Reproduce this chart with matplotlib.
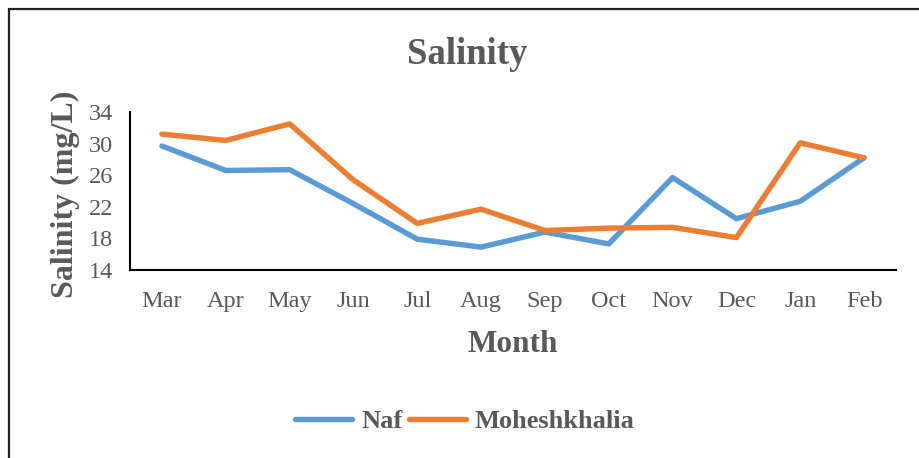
import matplotlib
matplotlib.use("Agg")
import matplotlib.pyplot as plt
from matplotlib.patches import Rectangle

months = ["Mar", "Apr", "May", "Jun", "Jul", "Aug", "Sep", "Oct", "Nov", "Dec", "Jan", "Feb"]
naf = [29.7, 26.6, 26.7, 22.4, 17.9, 16.9, 18.8, 17.3, 25.7, 20.5, 22.7, 28.2]
moheshkhalia = [31.2, 30.4, 32.5, 25.4, 19.9, 21.7, 19.0, 19.3, 19.4, 18.1, 30.1, 28.2]
yticks = [14, 18, 22, 26, 30, 34]

W, H = 919, 458
DPI = 100
plt.rcParams['font.family'] = ['Liberation Serif', 'DejaVu Serif']
gray = '#595959'

fig = plt.figure(figsize=(W / DPI, H / DPI), dpi=DPI)
ax = fig.add_axes([130 / W, 1 - 270 / H, (896 - 130) / W, (270 - 112) / H])

x = list(range(len(months)))
ax.plot(x, naf, color='#5B9BD5', lw=3.9, solid_capstyle='round', solid_joinstyle='round', label='Naf')
ax.plot(x, moheshkhalia, color='#ED7D31', lw=3.9, solid_capstyle='round', solid_joinstyle='round', label='Moheshkhalia')

ax.set_xlim(-0.5, len(months) - 0.5)
ax.set_ylim(14, 34)
ax.set_yticks(yticks)
ax.set_xticks(x)
ax.set_xticklabels(months)
ax.tick_params(axis='both', length=0, labelsize=17.5, labelcolor=gray)
ax.tick_params(axis='y', pad=12)
ax.tick_params(axis='x', pad=15)
for s in ['top', 'right']:
    ax.spines[s].set_visible(False)
for s in ['left', 'bottom']:
    ax.spines[s].set_color('black')
    ax.spines[s].set_linewidth(1.5)

fig.text(513 / W, 1 - 345 / H, 'Month', ha='center', va='center', fontsize=22.5,
         fontweight='bold', color=gray)
fig.text(65 / W, 1 - 194 / H, 'Salinity (mg/L)', ha='center', va='center', rotation=90,
         fontsize=23, fontweight='bold', color=gray)
fig.text(467 / W, 1 - 55 / H, 'Salinity', ha='center', va='center', fontsize=26.5,
         fontweight='bold', color=gray)

leg = fig.legend(loc='center', bbox_to_anchor=(465 / W, 1 - 421 / H), ncol=2, frameon=False,
                 handlelength=2.15, handletextpad=0.35, columnspacing=0.25,
                 prop={'family': 'Liberation Serif', 'weight': 'bold', 'size': 19})
for t in leg.get_texts():
    t.set_color(gray)

fig.patches.append(Rectangle((9 / W, -0.1), 1.1, 1 - 9 / H + 0.1, transform=fig.transFigure,
                             fill=False, edgecolor='#222222', linewidth=1.6))

fig.savefig('out.png', dpi=DPI)
